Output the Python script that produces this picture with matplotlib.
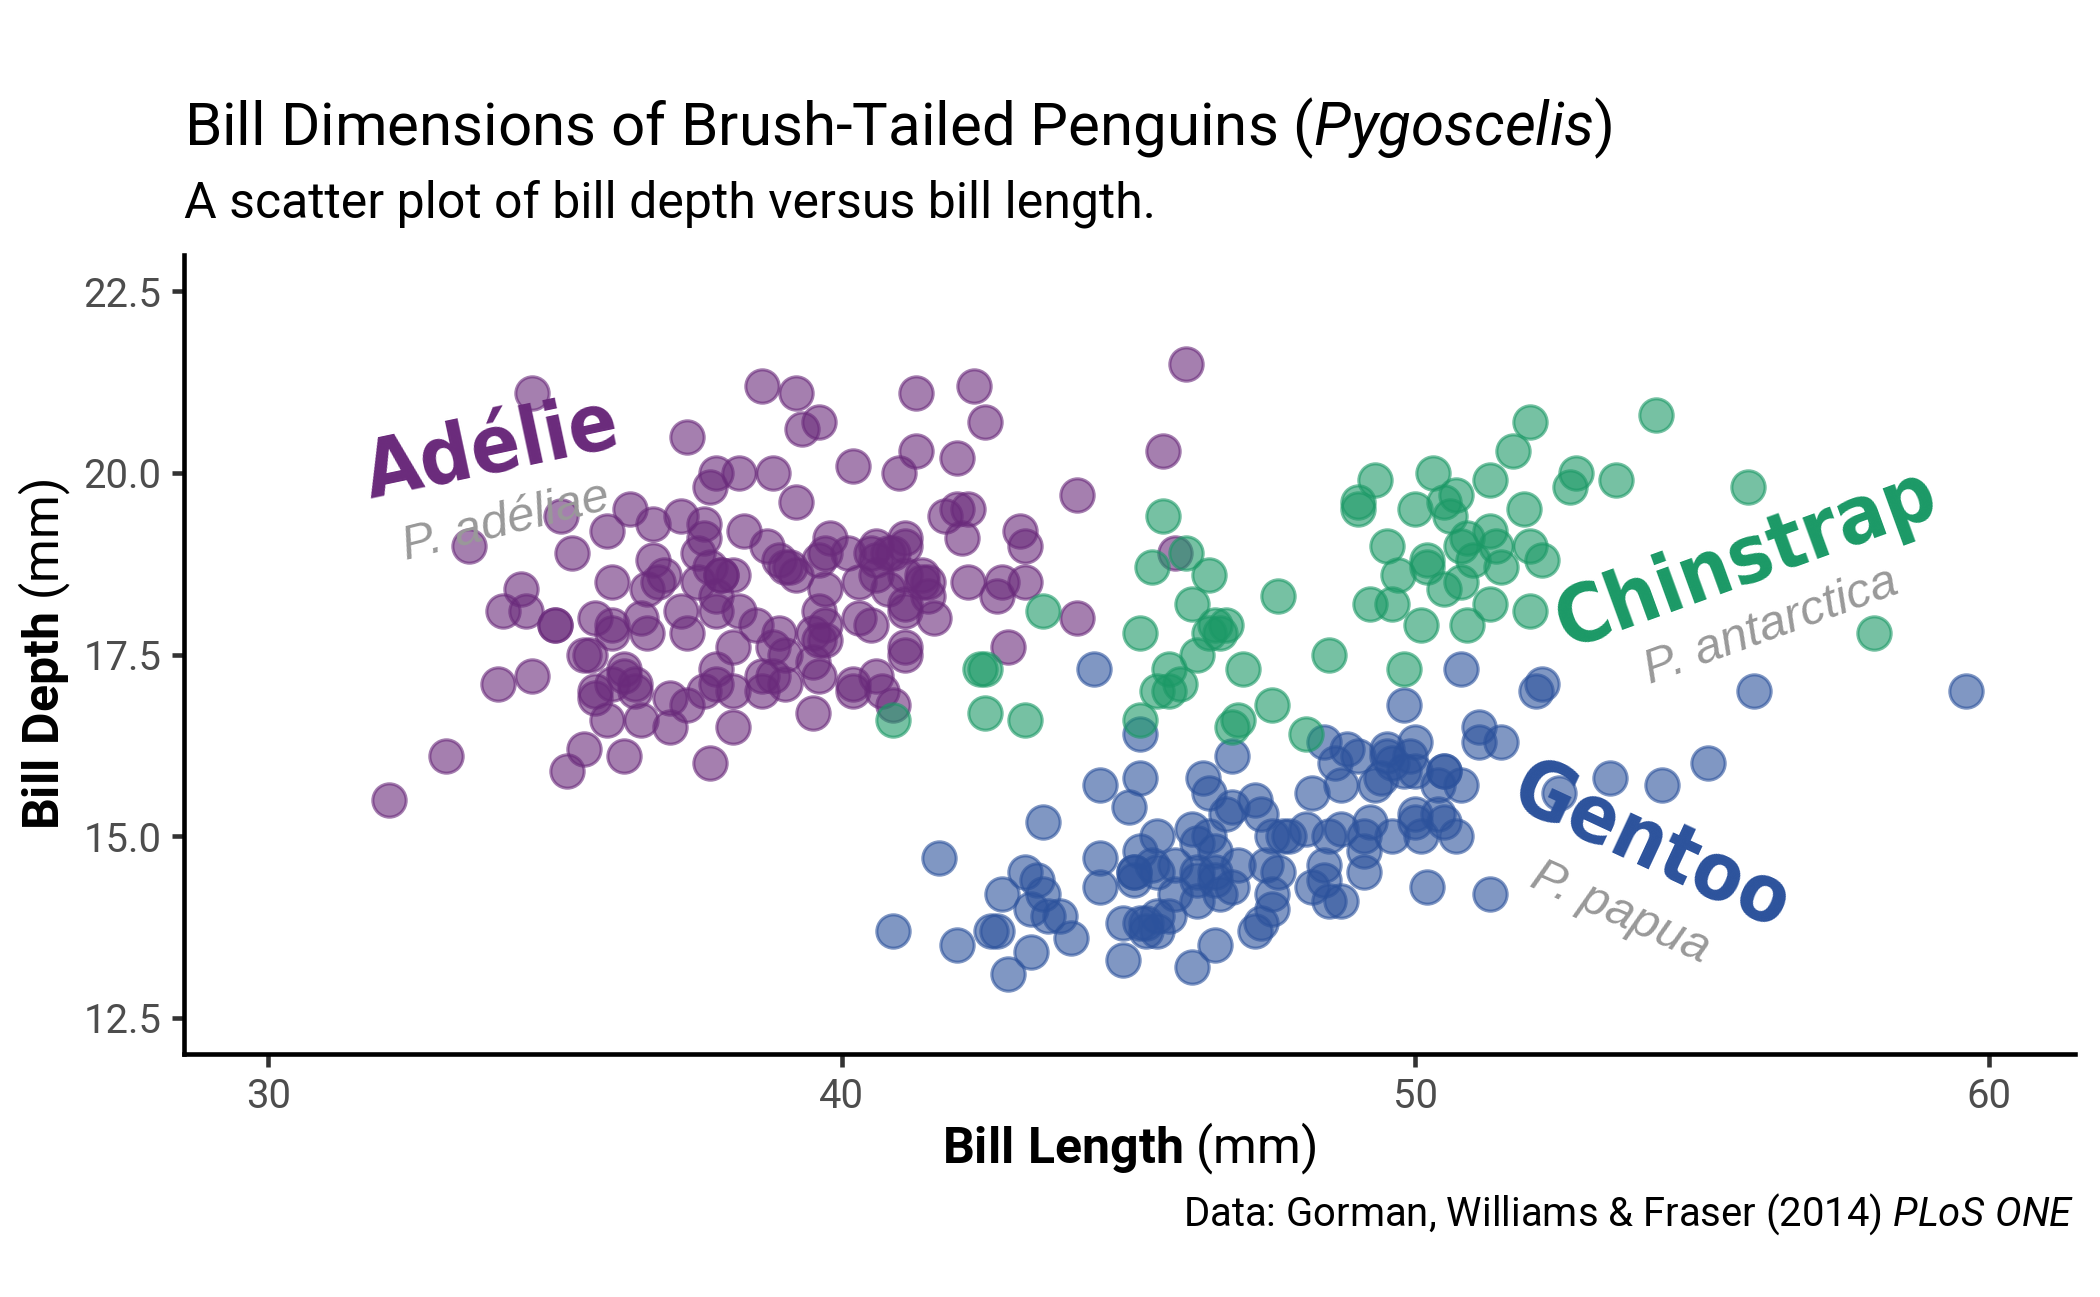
import matplotlib
matplotlib.use("Agg")
from matplotlib import pyplot as plt

# Palmer penguins, bill length / bill depth (mm)
adelie_len = [39.1, 39.5, 40.3, 36.7, 39.3, 38.9, 39.2, 34.1, 42.0, 37.8,
              37.8, 41.1, 38.6, 34.6, 36.6, 38.7, 42.5, 34.4, 46.0, 37.8,
              37.7, 35.9, 38.2, 38.8, 35.3, 40.6, 40.5, 37.9, 40.5, 39.5,
              37.2, 39.5, 40.9, 36.4, 39.2, 38.8, 42.2, 37.6, 39.8, 36.5,
              40.8, 36.0, 44.1, 37.0, 39.6, 41.1, 37.5, 36.0, 42.3, 39.6,
              40.1, 35.0, 42.0, 34.5, 41.4, 39.0, 40.6, 36.5, 37.6, 35.7,
              41.3, 37.6, 41.1, 36.4, 41.6, 35.5, 41.1, 35.9, 41.8, 33.5,
              39.7, 39.6, 45.8, 35.5, 42.8, 40.9, 37.2, 36.2, 42.1, 34.6,
              42.9, 36.7, 35.1, 37.3, 41.3, 36.3, 36.9, 38.3, 38.9, 35.7,
              41.1, 34.0, 39.6, 36.2, 40.8, 38.1, 40.3, 33.1, 43.2, 35.0,
              41.0, 37.7, 37.8, 37.9, 39.7, 38.6, 38.2, 38.1, 43.2, 38.1,
              45.6, 39.7, 42.2, 39.6, 42.7, 38.6, 37.3, 35.7, 41.1, 36.2,
              37.7, 40.2, 41.4, 35.2, 40.6, 38.8, 41.5, 39.0, 44.1, 38.5,
              43.1, 36.8, 37.5, 38.1, 41.1, 35.6, 40.2, 37.0, 39.7, 40.2,
              40.6, 32.1, 40.7, 37.3, 39.0, 39.2, 36.6, 36.0, 37.8, 36.0, 41.5]
adelie_dep = [18.7, 17.4, 18.0, 19.3, 20.6, 17.8, 19.6, 18.1, 20.2, 17.1,
              17.3, 17.6, 21.2, 21.1, 17.8, 19.0, 20.7, 18.4, 21.5, 18.3,
              18.7, 19.2, 18.1, 17.2, 18.9, 18.6, 17.9, 18.6, 18.9, 16.7,
              18.1, 17.8, 18.9, 17.0, 21.1, 20.0, 18.5, 19.3, 19.1, 18.0,
              18.4, 18.5, 19.7, 16.9, 18.8, 19.0, 18.9, 17.9, 21.2, 17.7,
              18.9, 17.9, 19.5, 18.1, 18.6, 17.5, 18.8, 16.6, 19.1, 16.9,
              21.1, 17.0, 18.2, 17.1, 18.0, 16.2, 19.1, 16.6, 19.4, 19.0,
              18.4, 17.2, 18.9, 17.5, 18.5, 16.8, 19.4, 16.1, 19.1, 17.2,
              17.6, 18.8, 19.4, 17.8, 20.3, 19.5, 18.6, 19.2, 18.8, 18.0,
              18.1, 17.1, 18.1, 17.3, 18.9, 18.6, 18.5, 16.1, 18.5, 17.9,
              20.0, 16.0, 20.0, 18.6, 18.9, 17.2, 20.0, 17.0, 19.0, 16.5,
              20.3, 17.7, 19.5, 20.7, 18.3, 17.0, 20.5, 17.0, 18.6, 17.2,
              19.8, 17.0, 18.5, 15.9, 19.0, 17.6, 18.3, 17.1, 18.0, 17.9,
              19.2, 18.5, 18.5, 17.6, 17.5, 17.5, 20.1, 16.5, 17.9, 17.1,
              17.2, 15.5, 17.0, 16.8, 18.7, 18.6, 18.4, 17.8, 18.1, 17.1, 18.5]

gentoo_len = [46.1, 50.0, 48.7, 50.0, 47.6, 46.5, 45.4, 46.7, 43.3, 46.8,
              40.9, 49.0, 45.5, 48.4, 45.8, 49.3, 42.0, 49.2, 46.2, 48.7,
              50.2, 45.1, 46.5, 46.3, 42.9, 46.1, 44.5, 47.8, 48.2, 50.0,
              47.3, 42.8, 45.1, 59.6, 49.1, 48.4, 42.6, 44.4, 44.0, 48.7,
              42.7, 49.6, 45.3, 49.6, 50.5, 43.6, 45.5, 50.5, 44.9, 45.2,
              46.6, 48.5, 45.1, 50.1, 46.5, 45.0, 43.8, 45.5, 43.2, 50.4,
              45.3, 46.2, 45.7, 54.3, 45.8, 49.8, 46.2, 49.5, 43.5, 50.7,
              47.7, 46.4, 48.2, 46.5, 46.4, 48.6, 47.5, 51.1, 45.2, 45.2,
              49.1, 52.5, 47.4, 50.0, 44.9, 50.8, 43.4, 51.3, 47.5, 52.1,
              47.5, 52.2, 45.5, 49.5, 44.5, 50.8, 49.4, 46.9, 48.4, 51.1,
              48.5, 55.9, 47.2, 49.1, 47.3, 46.8, 41.7, 53.4, 43.3, 48.1,
              50.5, 49.8, 43.5, 51.5, 46.2, 55.1, 44.5, 48.8, 47.2, 46.8,
              50.4, 45.2, 49.9]
gentoo_dep = [13.2, 16.3, 14.1, 15.2, 14.5, 13.5, 14.6, 15.3, 13.4, 15.4,
              13.7, 16.1, 13.7, 14.6, 14.6, 15.7, 13.5, 15.2, 14.5, 15.1,
              14.3, 14.5, 14.5, 15.8, 13.1, 15.1, 14.3, 15.0, 14.3, 15.3,
              15.3, 14.2, 14.5, 17.0, 14.8, 16.3, 13.7, 17.3, 13.6, 15.7,
              13.7, 16.0, 13.7, 15.0, 15.9, 13.9, 13.9, 15.9, 13.3, 15.8,
              14.2, 14.1, 14.4, 15.0, 14.4, 15.4, 13.9, 15.0, 14.5, 15.3,
              13.8, 14.9, 13.9, 15.7, 14.2, 16.8, 14.4, 16.2, 14.2, 15.0,
              15.0, 15.6, 15.6, 14.8, 15.0, 16.0, 14.2, 16.3, 13.8, 16.4,
              14.5, 15.6, 14.6, 15.9, 13.8, 17.3, 14.4, 14.2, 14.0, 17.0,
              15.0, 17.1, 14.5, 16.1, 14.7, 15.7, 15.8, 14.6, 14.4, 16.5,
              15.0, 17.0, 15.5, 15.0, 13.8, 16.1, 14.7, 15.8, 14.0, 15.1,
              15.2, 15.9, 15.2, 16.3, 14.1, 16.0, 15.7, 16.2, 13.7, 14.3,
              15.7, 14.8, 16.1]

chinstrap_len = [46.5, 50.0, 51.3, 45.4, 52.7, 45.2, 46.1, 51.3, 46.0, 51.3,
                 46.6, 51.7, 47.0, 52.0, 45.9, 50.5, 50.3, 58.0, 46.4, 49.2,
                 42.4, 48.5, 43.2, 50.6, 46.7, 52.0, 50.5, 49.5, 46.4, 52.8,
                 40.9, 54.2, 42.5, 51.0, 49.7, 47.5, 47.6, 52.0, 46.9, 53.5,
                 49.0, 46.2, 50.9, 45.5, 50.9, 50.8, 50.1, 49.0, 51.5, 49.8,
                 48.1, 51.4, 45.7, 50.7, 42.5, 52.2, 45.2, 49.3, 50.2, 45.6,
                 51.9, 46.8, 45.7, 55.8, 43.5, 49.6, 50.8, 50.2]
chinstrap_dep = [17.9, 19.5, 19.2, 18.7, 19.8, 17.8, 18.2, 18.2, 18.9, 19.9,
                 17.8, 20.3, 17.3, 18.1, 17.1, 19.6, 20.0, 17.8, 18.6, 18.2,
                 17.3, 17.5, 16.6, 19.4, 17.9, 19.0, 18.4, 19.0, 17.8, 20.0,
                 16.6, 20.8, 16.7, 18.8, 18.6, 16.8, 18.3, 20.7, 16.6, 19.9,
                 19.5, 17.5, 19.1, 17.0, 17.9, 18.5, 17.9, 19.6, 18.7, 17.3,
                 16.4, 19.0, 17.3, 19.7, 17.3, 18.8, 16.6, 19.9, 18.8, 19.4,
                 19.5, 16.5, 17.0, 19.8, 18.1, 18.2, 19.0, 18.7]

purple = "#6a2a7b"
blue = "#2c529c"
green = "#1b9966"

plt.rcParams["font.family"] = ["Roboto", "DejaVu Sans"]
plt.rcParams["mathtext.fontset"] = "custom"
plt.rcParams["mathtext.rm"] = "Roboto"
plt.rcParams["mathtext.it"] = "Roboto:italic"
plt.rcParams["mathtext.bf"] = "Roboto:bold"

W, H = 2100, 1297
fig = plt.figure(figsize=(W / 300, H / 300), dpi=300)
ax = fig.add_axes([184 / W, 1 - 1054 / H, 1891 / W, 799 / H])

pt = dict(s=64, alpha=0.6, linewidths=0.75)
ax.scatter(adelie_len, adelie_dep, color=purple, **pt)
ax.scatter(gentoo_len, gentoo_dep, color=blue, **pt)
ax.scatter(chinstrap_len, chinstrap_dep, color=green, **pt)

ax.set_xlim(28.53, 61.5)
ax.set_ylim(12.0, 23.0)
ax.set_xticks([30, 40, 50, 60])
ax.set_yticks([12.5, 15.0, 17.5, 20.0, 22.5])
ax.set_yticklabels(["12.5", "15.0", "17.5", "20.0", "22.5"])
for s in ["top", "right"]:
    ax.spines[s].set_visible(False)
for s in ["left", "bottom"]:
    ax.spines[s].set_linewidth(1.1)
ax.tick_params(length=3, width=1.1, color="#333333", labelsize=9.6,
               labelcolor="#4d4d4d", pad=2.4)

# species labels
big = dict(family=["DejaVu Sans"], stretch="condensed", weight="bold",
           fontsize=19.5, ha="center", va="center")
sci = dict(family=["Liberation Sans", "DejaVu Sans"], style="italic",
           fontsize=11.8, color="#999999", ha="center", va="center")
ax.text(33.9, 20.3, "Adélie", color=purple, rotation=12, **big)
ax.text(34.15, 19.32, "P. adéliae", rotation=14, **sci)
ax.text(55.78, 18.8, "Chinstrap", color=green, rotation=20, **big)
ax.text(56.2, 17.88, "P. antarctica", rotation=20, **sci)
ax.text(54.1, 14.83, "Gentoo", color=blue, rotation=-25, **big)
ax.text(53.57, 13.94, "P. papua", rotation=-24, **sci)

fig.text(184 / W, 1 - 145 / H,
         r"Bill Dimensions of Brush-Tailed Penguins ($\mathit{Pygoscelis}$)",
         fontsize=14.4, va="baseline", ha="left")
fig.text(184 / W, 1 - 218 / H, "A scatter plot of bill depth versus bill length.",
         fontsize=12, va="baseline", ha="left")
fig.text(1129.5 / W, 1 - 1163 / H, r"$\mathbf{Bill\ Length}$ (mm)",
         fontsize=12, va="baseline", ha="center")
fig.text(45 / W, 1 - 654.5 / H, r"$\mathbf{Bill\ Depth}$ (mm)",
         fontsize=12, va="center", ha="center", rotation=90)
fig.text(2074 / W, 1 - 1226 / H,
         r"Data: Gorman, Williams & Fraser (2014) $\mathit{PLoS\ ONE}$",
         fontsize=9.6, va="baseline", ha="right")

fig.savefig("out.png", dpi=300)
